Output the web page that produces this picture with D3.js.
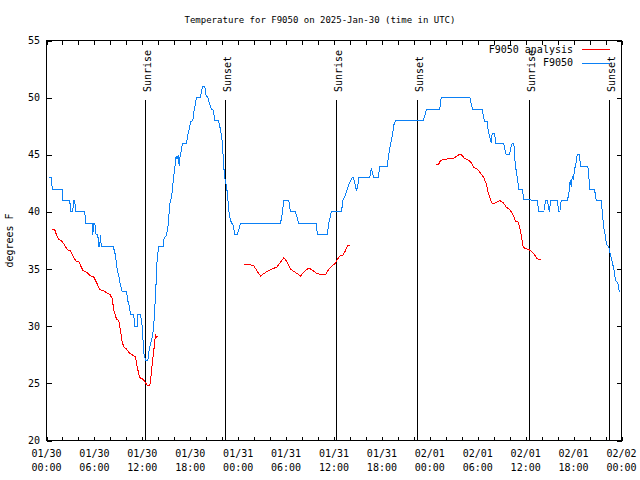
<!DOCTYPE html>
<html>
<head>
<meta charset="utf-8">
<script src="https://cdn.jsdelivr.net/npm/d3@7"></script>
<style>
  html, body { margin: 0; padding: 0; background: #fff; }
  svg { display: block; }
  text { font-family: "DejaVu Sans Mono", "Liberation Mono", monospace; font-size: 10px; fill: #000; }
</style>
</head>
<body>
<svg id="chart" width="640" height="480"></svg>
<script>
// ---------------- DATA ----------------
const chartTitle = "Temperature for F9050 on 2025-Jan-30 (time in UTC)";
const yLabel = "degrees F";
const seriesNames = ["F9050 analysis", "F9050"];
const yTicks = [20, 25, 30, 35, 40, 45, 50, 55];
// hours since 2025-01-30 00:00 UTC
const xMajorTicks = [0, 6, 12, 18, 24, 30, 36, 42, 48, 54, 60, 66, 72];
const xTickDates = ["01/30","01/30","01/30","01/30","01/31","01/31","01/31","01/31","02/01","02/01","02/01","02/01","02/02"];
const xTickTimes = ["00:00","06:00","12:00","18:00","00:00","06:00","12:00","18:00","00:00","06:00","12:00","18:00","00:00"];
const xMinorTicks = d3.range(0, 73, 2);

const eventHours = [12.31, 22.33, 36.31, 46.42, 60.40, 70.41];
const eventLabels = ["Sunrise", "Sunset", "Sunrise", "Sunset", "Sunrise", "Sunset"];

// Observed F9050
const obsHours = [0.29,0.63,0.71,1.97,2.04,2.92,3.01,3.09,3.26,3.42,3.54,3.63,4.80,4.88,5.72,5.80,5.92,6.05,6.22,6.42,6.55,6.67,6.76,6.85,8.35,8.64,8.85,9.05,9.14,9.48,10.02,10.18,10.31,10.52,10.93,11.02,11.36,11.43,11.77,11.98,12.18,12.40,12.68,12.81,13.02,13.24,13.36,13.52,13.74,13.86,14.06,14.61,14.69,15.03,15.19,15.31,15.44,15.62,15.74,15.87,16.07,16.24,16.37,16.49,16.62,16.69,16.87,17.03,17.53,17.69,17.87,18.03,18.32,18.44,18.66,18.78,19.28,19.41,19.57,19.82,20.00,20.16,20.29,20.45,20.66,20.82,20.95,21.04,21.50,21.66,21.79,21.95,22.08,22.20,22.38,22.54,22.70,22.83,22.95,23.13,23.38,23.58,23.88,24.13,24.29,29.30,29.51,29.71,30.34,30.55,31.18,31.59,33.81,33.90,35.15,35.35,35.65,36.94,37.10,37.44,37.65,37.85,38.07,38.28,38.44,38.69,38.82,38.98,39.11,40.48,40.66,40.78,40.98,41.54,41.74,42.66,42.79,42.99,43.16,43.36,43.49,43.70,47.17,47.33,47.58,49.25,49.42,53.01,53.18,53.34,54.56,54.68,54.85,55.19,55.31,55.51,55.69,55.81,56.10,56.26,57.26,57.39,57.56,57.98,58.10,58.32,58.52,58.60,58.73,58.94,59.14,59.57,59.77,61.45,61.65,62.27,62.49,62.74,62.90,62.99,63.11,63.95,64.15,64.28,64.45,65.20,65.40,65.53,65.62,65.70,65.83,65.95,66.12,66.37,66.45,66.74,66.87,67.78,67.91,68.03,68.62,68.83,69.46,69.59,69.79,70.00,70.12,70.41,70.63,70.84,71.04,71.25,71.54,71.67,71.79];
const obsTemps = [43,43,42,42,41,41,40,40,40,41,41,40,40,39,39,38,39,39,38,38,37,37,38,37,37,36.2,35,34.4,34,33,33,32.2,32,31,31,30,30,31,31,30,27.7,27,27,27.7,28.5,29,29.6,31,34,36,37,37,37.6,38,38.6,39.5,40.7,41.2,41.8,42.7,43.9,44.9,44.6,45,44,44.7,45.3,46,46,46.7,47.2,47.9,48,48.7,49.5,50,50,50.6,51,51,50.1,50.1,49.8,49.4,49,49,48.7,48,48,47.7,47.1,46.6,45.3,43.9,42.7,42.3,41.2,40.1,39.5,39.1,38.8,38,38,38.6,39,39,39.8,41,41,40,40,39,39,38,38,39,40,40,41,41.5,42,42.4,42.7,43,43,42.3,41.8,42.3,43,43,43.8,43.5,43,43,44,44,44.7,45.6,46.2,46.9,47.6,48,48,48.3,49,49,50,50,49.5,49,49,48.5,47.9,47.9,47.1,46.5,46,46.9,46.9,46,46,45.5,45,45,45.5,46,46,45,44,43,42,42,41.1,41,40,40,41,41,40.2,40,41,41,40,40,41,41,41.5,42.6,42.7,42.2,43.1,42.8,43.7,44.5,45,45,44,44,43.1,42,42,41,41,40,38.6,37.8,37.2,36.9,36.2,35.6,35,34,33.8,33.2,33];

// Analysis F9050 (null = gap between runs)
const anaHours = [0.71,1.00,1.25,1.54,1.84,2.17,2.59,3.01,3.42,3.72,4.04,4.26,4.55,5.10,5.51,5.92,6.35,6.67,7.18,7.60,7.93,8.23,8.43,8.77,9.05,9.27,9.48,9.68,10.02,10.31,10.73,11.14,11.36,11.68,11.98,12.27,12.61,12.94,13.02,13.24,13.44,13.65,13.77,13.94,
  null,
  24.71,25.33,25.96,26.38,26.80,27.21,27.64,28.26,28.89,29.30,29.71,30.14,30.55,31.18,31.81,32.31,32.85,33.27,33.90,34.52,34.94,35.35,35.78,36.19,36.48,36.81,37.10,37.44,37.65,37.94,
  null,
  48.80,49.12,49.34,49.75,50.38,51.00,51.63,51.93,52.34,52.88,53.18,53.51,54.01,54.35,54.76,55.10,55.31,55.60,55.81,56.22,56.76,57.19,57.60,58.02,58.44,58.73,59.07,59.27,59.48,59.69,59.98,60.40,60.82,61.15,61.45,61.86];
const anaTemps = [38.5,38.5,38,37.6,37.5,37.2,36.7,36.6,36,35.7,35.7,35.3,34.9,34.7,34.4,34.3,33.7,33.2,33.1,32.9,32.8,32.4,31.4,30.6,30.5,29.6,28.6,28.2,28,27.7,27.5,27.3,26.4,25.5,25.4,25.2,24.8,24.8,25.2,26.7,27.9,29.3,29,29.1,
  null,
  35.4,35.4,35.3,34.8,34.4,34.6,34.8,35,35.2,35.6,36,35.6,35,34.7,34.4,34.8,35.1,34.9,34.6,34.5,34.5,35,35.3,35.5,35.9,36.2,36.2,36.6,37,37.1,
  null,
  44.1,44.2,44.5,44.6,44.65,44.7,45,45,44.7,44.5,44.3,43.9,43.7,43.4,43,42.4,41.7,41.1,40.7,40.8,41,40.8,40.4,40.2,39.7,39.2,39.1,38.6,37.8,36.9,36.8,36.7,36.5,36.2,35.9,35.8];

const colors = { analysis: "#ff0000", obs: "#0b80f5" };

// ---------------- CHART ----------------
const svg = d3.select("#chart");
const L = 46.5, R = 621.5, T = 40.5, B = 440.5;
const x = d3.scaleLinear().domain([0, 72]).range([L, R]);
const y = d3.scaleLinear().domain([20, 55]).range([B, T]);

// title
svg.append("text").attr("x", 320).attr("y", 23).attr("text-anchor", "middle")
  .style("font-size", "9px").text(chartTitle);

// y label
svg.append("text").attr("transform", `translate(13,${(T + B) / 2}) rotate(-90)`)
  .attr("text-anchor", "middle").text(yLabel);

// axes ticks (inward, mirrored)
function styleAxis(g) {
  g.select(".domain").remove();
  g.selectAll("line").attr("stroke", "#000").attr("shape-rendering", "crispEdges");
  g.selectAll("text").remove();
}
svg.append("g").attr("transform", `translate(${L},0)`)
  .call(d3.axisLeft(y).tickValues(yTicks).tickSize(-5)).call(styleAxis);
svg.append("g").attr("transform", `translate(${R},0)`)
  .call(d3.axisRight(y).tickValues(yTicks).tickSize(-5)).call(styleAxis);
svg.append("g").attr("transform", `translate(0,${B})`)
  .call(d3.axisBottom(x).tickValues(xMinorTicks).tickSize(-4)).call(styleAxis);
svg.append("g").attr("transform", `translate(0,${T})`)
  .call(d3.axisTop(x).tickValues(xMinorTicks).tickSize(-4)).call(styleAxis);

// y tick labels
svg.append("g").selectAll("text").data(yTicks).join("text")
  .attr("x", 40).attr("y", d => y(d) + 3.5).attr("text-anchor", "end").text(d => d);

// x tick labels (two lines)
const xl = svg.append("g").selectAll("text").data(xMajorTicks).join("text")
  .attr("text-anchor", "middle");
xl.append("tspan").attr("x", d => x(d)).attr("y", 457).text((d, i) => xTickDates[i]);
xl.append("tspan").attr("x", d => x(d)).attr("y", 471).text((d, i) => xTickTimes[i]);

// frame
svg.append("rect").attr("x", L).attr("y", T).attr("width", R - L).attr("height", B - T)
  .attr("fill", "none").attr("stroke", "#000").attr("shape-rendering", "crispEdges");

// event lines
const evTop = T + (B - T) * 0.149;
const ev = svg.append("g").selectAll("g").data(eventHours).join("g");
ev.append("line").attr("x1", d => Math.round(x(d)) + 0.5).attr("x2", d => Math.round(x(d)) + 0.5)
  .attr("y1", evTop).attr("y2", B).attr("stroke", "#000").attr("shape-rendering", "crispEdges");
ev.append("text").attr("transform", d => `translate(${Math.round(x(d)) + 5.5},${evTop - 8}) rotate(-90)`)
  .attr("text-anchor", "start").text((d, i) => eventLabels[i]);

// series lines
const obsData = obsHours.map((h, i) => ({ h, t: obsTemps[i] }));
const anaData = anaHours.map((h, i) => ({ h, t: anaTemps[i] }));
const line = d3.line().defined(d => d.h !== null && d.t !== null).x(d => x(d.h)).y(d => y(d.t));

svg.append("path").datum(anaData).attr("d", line).attr("fill", "none")
  .attr("stroke", colors.analysis).attr("stroke-width", 1).attr("shape-rendering", "crispEdges");
svg.append("path").datum(obsData).attr("d", line).attr("fill", "none")
  .attr("stroke", colors.obs).attr("stroke-width", 1).attr("shape-rendering", "crispEdges");

// legend
const legend = [{ name: seriesNames[0], c: colors.analysis, y: 49 }, { name: seriesNames[1], c: colors.obs, y: 62.5 }];
const lg = svg.append("g").selectAll("g").data(legend).join("g");
lg.append("text").attr("x", 573).attr("y", d => d.y + 3.5).attr("text-anchor", "end").text(d => d.name);
lg.append("line").attr("x1", 582).attr("x2", 610).attr("y1", d => Math.round(d.y) + 0.5).attr("y2", d => Math.round(d.y) + 0.5)
  .attr("stroke", d => d.c).attr("stroke-width", 1).attr("shape-rendering", "crispEdges");
</script>
</body>
</html>
